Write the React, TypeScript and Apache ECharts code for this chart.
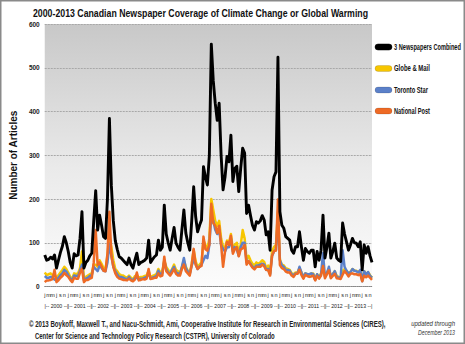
import { useEffect, useRef } from "react";
import * as echarts from "echarts";

const years = ["2000", "2001", "2002", "2003", "2004", "2005", "2006", "2007", "2008", "2009", "2010", "2011", "2012", "2013"];
const monthLetters = ["j", "f", "m", "a", "m", "j", "j", "a", "s", "o", "n", "d"];

const combined = [
  72, 60, 62, 67, 63, 72, 42, 60, 78, 92, 114, 100,
  80, 55, 42, 75, 70, 72, 110, 171, 42, 55, 60, 70,
  76, 150, 219, 129, 163, 140, 114, 110, 200, 384, 230, 150,
  105, 85, 68, 65, 60, 55, 50, 65, 50, 42, 60, 76,
  50, 55, 57, 60, 65, 106, 55, 62, 68, 72, 106, 83,
  90, 186, 120, 100, 83, 110, 135, 99, 90, 83, 130, 175,
  122, 100, 83, 150, 228, 160, 125, 140, 152, 274, 250, 232,
  300, 554, 470, 419, 380, 419, 300, 221, 250, 297, 285, 346,
  240, 270, 275, 217, 270, 316, 305, 167, 186, 162, 140, 129,
  148, 145, 150, 162, 152, 118, 125, 83, 220, 251, 262, 524,
  171, 140, 133, 114, 110, 106, 83, 76, 91, 91, 125, 90,
  60, 87, 80, 76, 83, 83, 45, 80, 60, 83, 163, 65,
  90, 122, 65, 80, 99, 65, 60, 57, 145, 120, 102, 83,
  95, 110, 100, 99, 91, 102, 38, 95, 76, 91, 70, 55,
];

const globeMail = [
  32, 26, 28, 30, 26, 28, 18, 26, 32, 38, 45, 40,
  32, 22, 18, 30, 28, 30, 42, 80, 18, 22, 25, 28,
  30, 50, 50, 45, 60, 52, 42, 40, 70, 115, 90, 60,
  40, 35, 28, 26, 25, 22, 20, 25, 20, 16, 24, 24,
  20, 22, 22, 24, 25, 36, 20, 24, 26, 28, 40, 32,
  35, 60, 45, 38, 30, 40, 50, 38, 35, 30, 45, 60,
  45, 36, 30, 52, 83, 58, 45, 50, 55, 105, 95, 85,
  110, 200, 175, 150, 138, 150, 110, 90, 90, 105, 100, 120,
  85, 95, 100, 78, 95, 129, 110, 62, 70, 60, 52, 48,
  55, 52, 55, 60, 56, 42, 48, 30, 80, 90, 95, 170,
  62, 50, 48, 42, 40, 38, 30, 28, 32, 32, 42, 32,
  22, 30, 28, 26, 30, 30, 16, 28, 22, 30, 40, 24,
  32, 40, 24, 28, 35, 24, 22, 20, 35, 40, 36, 30,
  34, 40, 36, 36, 33, 36, 14, 35, 28, 33, 26, 20,
];

const torontoStar = [
  24, 20, 20, 22, 20, 16, 14, 20, 26, 30, 38, 34,
  26, 18, 14, 25, 24, 24, 36, 50, 14, 18, 20, 24,
  26, 45, 40, 35, 48, 42, 36, 35, 55, 98, 70, 45,
  35, 28, 22, 22, 20, 18, 16, 22, 16, 14, 20, 20,
  16, 18, 18, 20, 22, 30, 18, 20, 22, 24, 36, 28,
  30, 58, 40, 32, 28, 38, 45, 32, 30, 28, 45, 65,
  42, 34, 28, 48, 60, 52, 40, 45, 50, 60, 70, 65,
  95, 165, 150, 130, 120, 130, 95, 86, 80, 90, 90, 110,
  80, 90, 85, 70, 90, 100, 100, 55, 58, 52, 45, 42,
  48, 48, 50, 52, 50, 38, 40, 28, 70, 80, 85, 155,
  60, 48, 45, 38, 38, 36, 28, 26, 30, 30, 45, 32,
  20, 30, 28, 28, 30, 28, 15, 28, 20, 28, 76, 22,
  30, 45, 22, 28, 35, 22, 20, 20, 83, 45, 36, 30,
  32, 40, 36, 35, 32, 38, 12, 35, 27, 33, 24, 20,
];

const nationalPost = [
  10, 14, 14, 15, 17, 38, 10, 14, 20, 24, 31, 26,
  22, 15, 10, 20, 18, 18, 32, 41, 10, 15, 15, 18,
  20, 55, 129, 49, 55, 46, 36, 35, 75, 171, 70, 45,
  30, 22, 18, 17, 15, 15, 14, 18, 14, 12, 16, 32,
  14, 15, 17, 16, 18, 40, 17, 18, 20, 20, 30, 23,
  25, 68, 35, 30, 25, 32, 40, 29, 25, 25, 40, 50,
  35, 30, 25, 50, 86, 50, 40, 45, 47, 114, 85, 82,
  95, 189, 145, 139, 122, 139, 95, 45, 80, 102, 95, 116,
  75, 85, 90, 69, 85, 87, 95, 50, 58, 50, 43, 39,
  45, 45, 45, 50, 46, 38, 37, 25, 70, 81, 82, 199,
  49, 42, 40, 34, 32, 32, 25, 22, 29, 29, 38, 26,
  18, 27, 24, 22, 23, 25, 14, 24, 18, 25, 47, 19,
  28, 37, 19, 24, 29, 19, 18, 17, 27, 35, 30, 23,
  29, 30, 28, 28, 26, 28, 12, 25, 21, 25, 20, 15,
];

const seriesNames = ["3 Newspapers Combined", "Globe & Mail", "Toronto Star", "National Post"];
const seriesColors = ["#000000", "#f7c600", "#5b80c9", "#ee6a25"];

const titleText = "2000-2013 Canadian Newspaper Coverage of Climate Change or Global Warming";
const footer1 = "© 2013 Boykoff, Maxwell T., and Nacu-Schmidt, Ami, Cooperative Institute for Research in Environmental Sciences (CIRES),";
const footer2 = "Center for Science and Technology Policy Research (CSTPR), University of Colorado";
const updated1 = "updated through";
const updated2 = "December 2013";

const FONT = "'Liberation Sans', Arial, sans-serif";

let measureCtx: CanvasRenderingContext2D | null = null;
function textWidth(text: string, size: number, weight: string, style: string): number {
  if (!measureCtx) measureCtx = document.createElement("canvas").getContext("2d");
  if (!measureCtx) return text.length * size * 0.55;
  measureCtx.font = `${style} ${weight} ${size}px ${FONT}`;
  return measureCtx.measureText(text).width;
}

function fitText(
  text: string,
  x: number,
  y: number,
  targetWidth: number,
  size: number,
  opts: { align?: string; weight?: string; style?: string; fill?: string } = {}
): any {
  const weight = opts.weight || "normal";
  const style = opts.style || "normal";
  const w = textWidth(text, size, weight, style);
  const s = Math.min(1.2, targetWidth / w);
  return {
    type: "text",
    x,
    y,
    scaleX: s,
    silent: true,
    style: {
      text,
      align: opts.align || "left",
      verticalAlign: "middle",
      fontFamily: FONT,
      fontWeight: weight,
      fontStyle: style,
      fontSize: size,
      fill: opts.fill || "#111",
    },
  };
}

export default function App() {
  const ref = useRef<HTMLDivElement>(null);
  useEffect(() => {
    if (!ref.current) return;
    const chart = echarts.init(ref.current, undefined, { renderer: "svg" });
    const months = years.flatMap((y) => monthLetters.map((_, i) => `${y}-${i + 1}`));
    const dataSets = [combined, globeMail, torontoStar, nationalPost];
    const series: any[] = dataSets.map((d, i) => ({
      name: seriesNames[i],
      type: "line",
      data: d,
      symbol: "none",
      xAxisIndex: 0,
      yAxisIndex: 0,
      z: i === 0 ? 5 : 2 + i * 0.1,
      lineStyle: { color: seriesColors[i], width: i === 0 ? 2.9 : 2.5, join: "round" },
      itemStyle: { color: seriesColors[i] },
    }));

    const legendY = [47, 68.5, 90, 111];
    const legendW = [67, 36, 34, 36];
    const legendGraphics: any[] = [];
    seriesNames.forEach((n, i) => {
      legendGraphics.push({
        type: "rect",
        silent: true,
        shape: { x: 375, y: legendY[i] - 3, width: 17, height: 6, r: 3 },
        style: { fill: seriesColors[i], stroke: i === 0 ? "#000" : "rgba(0,0,0,0.25)", lineWidth: 0.5 },
      });
      legendGraphics.push(fitText(n, 394, legendY[i], legendW[i], 9, { weight: "bold", fill: "#111" }));
    });

    chart.setOption({
      animation: false,
      grid: {
        left: 29,
        top: 24,
        width: 343,
        height: 262.5,
        show: true,
        borderWidth: 0,
        backgroundColor: new echarts.graphic.LinearGradient(0, 0, 0, 1, [
          { offset: 0, color: "#c8c8c8" },
          { offset: 0.55, color: "#eaeaea" },
          { offset: 1, color: "#fcfcfc" },
        ]),
      },
      xAxis: [
        {
          type: "category",
          data: months,
          boundaryGap: false,
          axisLine: { show: true, lineStyle: { color: "#888", type: "dotted", width: 1 } },
          axisTick: { show: false },
          axisLabel: {
            interval: 1,
            formatter: (_v: string, idx: number) => monthLetters[idx % 12],
            fontFamily: FONT,
            fontSize: 5.5,
            color: "#222",
            margin: 5,
          },
          splitLine: { show: false },
        },
        {
          type: "category",
          data: years,
          position: "bottom",
          offset: 12,
          boundaryGap: true,
          axisLine: { show: false },
          axisTick: { show: false },
          axisLabel: {
            interval: 0,
            formatter: (v: string) => `|-- ${v} --|`,
            fontFamily: FONT,
            fontSize: 5.2,
            color: "#222",
            margin: 5,
          },
          splitLine: { show: false },
        },
      ],
      yAxis: {
        type: "value",
        min: 0,
        max: 600,
        interval: 100,
        name: "Number of Articles",
        nameLocation: "middle",
        nameRotate: 90,
        nameGap: 21,
        nameTextStyle: { fontFamily: FONT, fontWeight: "bold", fontSize: 10, color: "#111" },
        axisLine: { show: false },
        axisTick: { show: false },
        axisLabel: { fontFamily: FONT, fontSize: 6.5, fontWeight: "bold", color: "#222", margin: 5 },
        splitLine: { show: true, lineStyle: { color: "#a8a8a8", type: [2, 1], width: 1 } },
      },
      series,
      graphic: [
        fitText(titleText, 200.5, 13, 335, 11.5, { align: "center", weight: "bold", fill: "#111" }),
        fitText(footer1, 29, 324, 358, 8.5, { weight: "bold", fill: "#222" }),
        fitText(footer2, 35, 336, 240, 8.5, { weight: "bold", fill: "#222" }),
        fitText(updated1, 455, 323, 44, 7, { align: "right", style: "italic", fill: "#333" }),
        fitText(updated2, 455, 332, 37, 7, { align: "right", style: "italic", fill: "#333" }),
        ...legendGraphics,
        {
          type: "rect",
          silent: true,
          z: 100,
          shape: { x: 0.75, y: 0.75, width: 463.5, height: 342.5 },
          style: { fill: "none", stroke: "#8a8a8a", lineWidth: 1.5 },
        },
      ],
    });
    return () => chart.dispose();
  }, []);
  return (
    <div
      ref={ref}
      style={{ position: "fixed", left: 0, top: 0, width: 465, height: 344, background: "#fff" }}
    />
  );
}
